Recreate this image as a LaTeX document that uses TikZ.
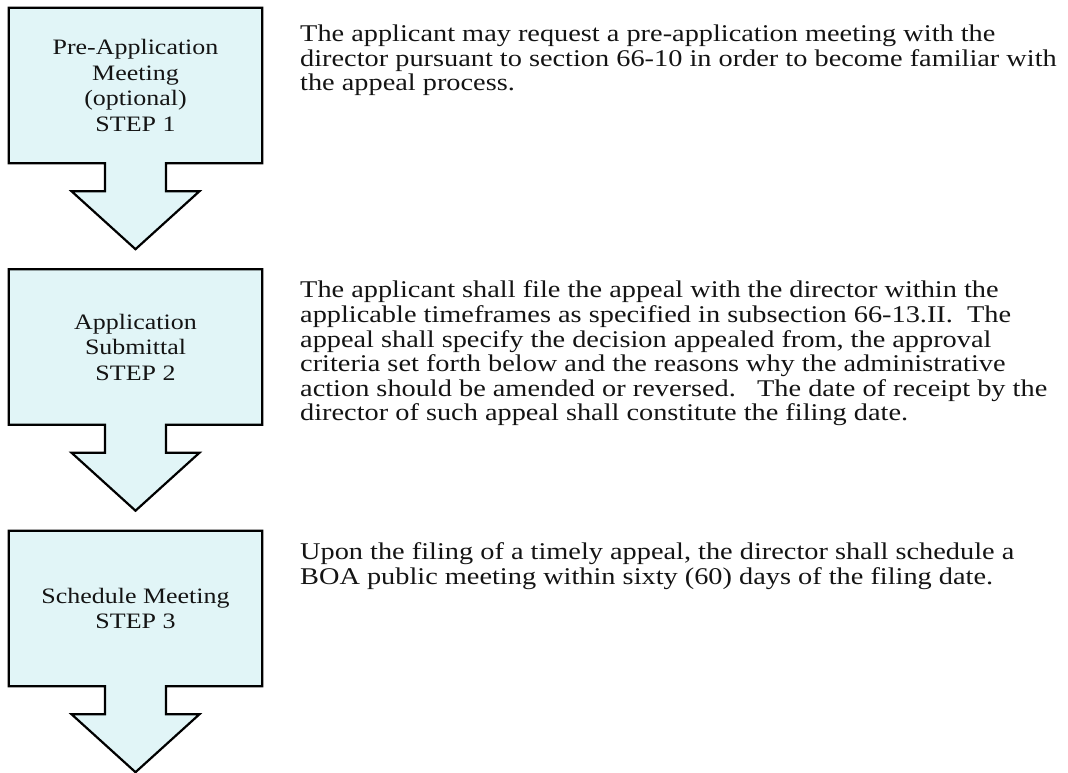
\documentclass[tikz,border=0pt]{standalone}
\usepackage{fontspec}
\setmainfont[FakeStretch=1.18]{Liberation Serif}
\usetikzlibrary{backgrounds}
\definecolor{boxfill}{RGB}{225,245,247}
\definecolor{inkc}{RGB}{20,20,20}
\tikzset{
  stepbox/.style={rectangle, inner sep=0pt, minimum width=253pt, minimum height=155pt,
    align=center, font=\fontsize{22}{25.5}\selectfont, text=inkc},
  outline/.style={draw=black, line width=2.2pt, fill=boxfill, line join=miter},
  shadowpath/.style={fill=black!45},
  note/.style={anchor=north west, inner sep=0pt, align=left,
    font=\fontsize{24}{24.6}\selectfont, text=inkc},
}
% outline of a box with a downward block arrow below it
\newcommand\arrowbox[1]{%
  \path[shadowpath, xshift=1.6pt, yshift=-1.6pt]
    (#1.north west) -- (#1.north east) -- (#1.south east)
    -- ([xshift=30.5pt]#1.south) -- ([xshift=30.5pt,yshift=-28pt]#1.south)
    -- ([xshift=64pt,yshift=-28pt]#1.south) -- ([yshift=-86pt]#1.south)
    -- ([xshift=-64pt,yshift=-28pt]#1.south) -- ([xshift=-30.5pt,yshift=-28pt]#1.south)
    -- ([xshift=-30.5pt]#1.south) -- (#1.south west) -- cycle;
  \path[outline]
    (#1.north west) -- (#1.north east) -- (#1.south east)
    -- ([xshift=30.5pt]#1.south) -- ([xshift=30.5pt,yshift=-28pt]#1.south)
    -- ([xshift=64pt,yshift=-28pt]#1.south) -- ([yshift=-86pt]#1.south)
    -- ([xshift=-64pt,yshift=-28pt]#1.south) -- ([xshift=-30.5pt,yshift=-28pt]#1.south)
    -- ([xshift=-30.5pt]#1.south) -- (#1.south west) -- cycle;}
\begin{document}
\begin{tikzpicture}[x=1pt, y=-1pt]
  \useasboundingbox (0,0) rectangle (1068,773);

  % step boxes
  \node[stepbox] (s1) at (135.5, 85.5) {Pre-Application\\Meeting\\(optional)\\STEP 1};
  \node[stepbox] (s2) at (135.5, 347) {Application\\Submittal\\STEP 2};
  \node[stepbox] (s3) at (135.5, 608.5) {Schedule Meeting\\STEP 3};

  \begin{scope}[on background layer]
    \fill[white] (0,0) rectangle (1068,773);
    \arrowbox{s1}
    \arrowbox{s2}
    \arrowbox{s3}
  \end{scope}

  % descriptions
  \node[note] (d1) at (300, 24.6) {The applicant may request a pre-application meeting with the\\
    director pursuant to section 66-10 in order to become familiar with\\
    the appeal process.};
  \node[note] (d2) at (300, 280.7) {The applicant shall file the appeal with the director within the\\
    applicable timeframes as specified in subsection 66-13.II.\ \ The\\
    appeal shall specify the decision appealed from, the approval\\
    criteria set forth below and the reasons why the administrative\\
    action should be amended or reversed.\ \ \ The date of receipt by the\\
    director of such appeal shall constitute the filing date.};
  \node[note] (d3) at (300, 542.7) {Upon the filing of a timely appeal, the director shall schedule a\\
    BOA public meeting within sixty (60) days of the filing date.};
\end{tikzpicture}
\end{document}
